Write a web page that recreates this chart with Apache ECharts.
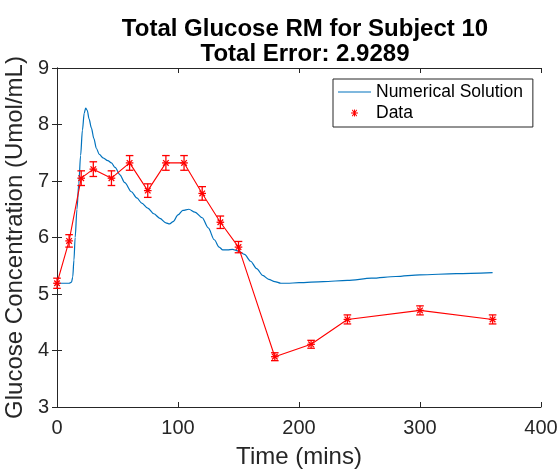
<!DOCTYPE html>
<html>
<head>
<meta charset="utf-8">
<script src="https://cdn.jsdelivr.net/npm/echarts@6/dist/echarts.min.js"></script>
<style>
  html, body { margin: 0; padding: 0; background: #fff; }
  #chart { width: 560px; height: 471px; }
</style>
</head>
<body>
<div id="chart"></div>
<script>
// Measured glucose samples (minutes, Umol/mL) with their error half-widths
const sampleTimes = [0, 10, 20, 30, 45, 60, 75, 90, 105, 120, 135, 150, 180, 210, 240, 300, 360];
const sampleValues = [5.19, 5.94, 7.05, 7.21, 7.05, 7.32, 6.83, 7.32, 7.32, 6.78, 6.27, 5.83, 3.89, 4.11, 4.55, 4.71, 4.55];
const sampleErrors = [0.09, 0.11, 0.13, 0.13, 0.13, 0.13, 0.12, 0.13, 0.13, 0.12, 0.11, 0.10, 0.07, 0.07, 0.08, 0.08, 0.08];

// Model output (numerical solution) sampled along time
const modelTimes = [0, 5, 10, 12, 13, 14, 15, 16.5, 18, 19.5, 21, 22.5, 23.7, 25, 26.5, 28.4, 30.5, 32.5, 35, 38, 42, 45, 48, 52, 56, 61.5, 66, 70, 75, 80, 85, 90, 93, 96, 100, 104, 109, 114, 120, 125, 130, 134, 137, 141, 145, 150, 155, 160, 165, 170, 175, 180, 185, 190, 200, 220, 240, 260, 280, 300, 330, 360];
const modelValues = [5.19, 5.19, 5.19, 5.21, 5.3, 5.6, 6.0, 6.5, 6.95, 7.45, 7.9, 8.2, 8.29, 8.25, 8.1, 7.94, 7.75, 7.58, 7.47, 7.41, 7.36, 7.32, 7.24, 7.11, 6.97, 6.81, 6.7, 6.61, 6.52, 6.42, 6.34, 6.26, 6.24, 6.28, 6.4, 6.48, 6.5, 6.45, 6.35, 6.17, 5.96, 5.83, 5.78, 5.78, 5.79, 5.76, 5.7, 5.58, 5.45, 5.33, 5.26, 5.22, 5.19, 5.19, 5.2, 5.22, 5.24, 5.28, 5.31, 5.34, 5.36, 5.38];

// Axis tick values
const xTicks = [0, 100, 200, 300, 400];
const yTicks = [3, 4, 5, 6, 7, 8, 9];

const BLUE = '#0072BD';
const RED = '#FF0000';
const AXIS = '#262626';
const FONT = '"Liberation Sans", Arial, Helvetica, sans-serif';

const modelData = modelTimes.map((t, i) => [t, modelValues[i]]);
const sampleData = sampleTimes.map((t, i) => [t, sampleValues[i]]);
const errorData = sampleTimes.map((t, i) => [t, sampleValues[i], sampleErrors[i]]);

// legend icons: bounds padded with zero-area segments so the glyph keeps its size
const lineIcon = 'path://M0 0L0 0ZM33 14L33 14ZM0 6.4H33V7.6H0Z';
const starIcon = 'path://M0 0L0 0ZM33 14L33 14Z' +
  'M13 6.5H20V7.5H13Z' +
  'M16 3.5H17V10.5H16Z' +
  'M13.9 4.2L14.6 3.5L19.1 9.8L18.4 10.5Z' +
  'M18.4 3.5L19.1 4.2L14.6 10.5L13.9 9.8Z';

function renderErrorBar(params, api) {
  const x = api.value(0), y = api.value(1), e = api.value(2);
  const top = api.coord([x, y + e]);
  const bot = api.coord([x, y - e]);
  const c = api.coord([x, y]);
  const cap = 3.8, r = 3.8, d = 2.8;
  const style = { stroke: RED, lineWidth: 1.3, fill: null };
  const seg = (x1, y1, x2, y2) => ({ type: 'line', shape: { x1, y1, x2, y2 }, style });
  return {
    type: 'group',
    children: [
      seg(top[0], top[1], bot[0], bot[1]),
      seg(top[0] - cap, top[1], top[0] + cap, top[1]),
      seg(bot[0] - cap, bot[1], bot[0] + cap, bot[1]),
      seg(c[0] - r, c[1], c[0] + r, c[1]),
      seg(c[0] - d, c[1] - d, c[0] + d, c[1] + d),
      seg(c[0] - d, c[1] + d, c[0] + d, c[1] - d)
    ]
  };
}

const chart = echarts.init(document.getElementById('chart'), null, { renderer: 'canvas' });

const tickLabelStyle = { color: AXIS, fontSize: 20, fontFamily: FONT };

chart.setOption({
  animation: false,
  backgroundColor: '#fff',
  title: {
    text: 'Total Glucose RM for Subject 10\nTotal Error: 2.9289',
    left: 300,
    top: 12,
    textAlign: 'center',
    textStyle: { fontFamily: FONT, fontSize: 24, fontWeight: 'bold', color: '#000', lineHeight: 25 }
  },
  grid: { left: 57, right: 19, top: 68, bottom: 64, show: false, containLabel: false, outerBoundsMode: 'none' },
  legend: {
    orient: 'vertical',
    left: 333,
    top: 79,
    padding: [4, 10, 5, 5],
    itemGap: 3,
    itemWidth: 33,
    itemHeight: 14,
    backgroundColor: '#fff',
    borderColor: AXIS,
    borderWidth: 1,
    borderRadius: 0,
    textStyle: { fontFamily: FONT, fontSize: 17.5, color: '#000' },
    data: [
      { name: 'Numerical Solution', icon: lineIcon },
      { name: 'Data', icon: starIcon }
    ],
    selectedMode: false
  },
  xAxis: [
    {
      type: 'value', position: 'bottom', min: 0, max: 400, interval: 100,
      name: 'Time (mins)', nameLocation: 'middle', nameGap: 38,
      nameTextStyle: { fontFamily: FONT, fontSize: 24, color: AXIS },
      axisLine: { show: true, lineStyle: { color: AXIS, width: 1 } },
      axisTick: { show: true, inside: true, length: 5, lineStyle: { color: AXIS } },
      axisLabel: Object.assign({ margin: 11, formatter: v => xTicks.includes(v) ? String(v) : '' }, tickLabelStyle),
      splitLine: { show: false }
    },
    {
      type: 'value', position: 'top', min: 0, max: 400, interval: 100,
      axisLine: { show: true, lineStyle: { color: AXIS, width: 1 } },
      axisTick: { show: true, inside: true, length: 5, lineStyle: { color: AXIS } },
      axisLabel: { show: false },
      splitLine: { show: false }
    }
  ],
  yAxis: [
    {
      type: 'value', position: 'left', min: 3, max: 9, interval: 1,
      name: 'Glucose Concentration (Umol/mL)', nameLocation: 'middle', nameGap: 20,
      nameTextStyle: { fontFamily: FONT, fontSize: 24, color: AXIS },
      axisLine: { show: true, lineStyle: { color: AXIS, width: 1 } },
      axisTick: { show: true, inside: true, length: 5, lineStyle: { color: AXIS } },
      axisLabel: Object.assign({ margin: 8, formatter: v => yTicks.includes(v) ? String(v) : '' }, tickLabelStyle),
      splitLine: { show: false }
    },
    {
      type: 'value', position: 'right', min: 3, max: 9, interval: 1,
      axisLine: { show: true, lineStyle: { color: AXIS, width: 1 } },
      axisTick: { show: true, inside: true, length: 5, lineStyle: { color: AXIS } },
      axisLabel: { show: false },
      splitLine: { show: false }
    }
  ],
  series: [
    {
      name: 'Numerical Solution',
      type: 'line',
      xAxisIndex: 0, yAxisIndex: 0,
      data: modelData,
      smooth: 0.3,
      smoothMonotone: 'x',
      symbol: 'none',
      lineStyle: { color: BLUE, width: 1.2 },
      itemStyle: { color: BLUE },
      z: 2
    },
    {
      name: 'Data line',
      type: 'line',
      xAxisIndex: 0, yAxisIndex: 0,
      data: sampleData,
      symbol: 'none',
      lineStyle: { color: RED, width: 1.1 },
      itemStyle: { color: RED },
      z: 3
    },
    {
      name: 'Data',
      type: 'custom',
      xAxisIndex: 0, yAxisIndex: 0,
      data: errorData,
      encode: { x: 0, y: 1 },
      renderItem: renderErrorBar,
      itemStyle: { color: RED },
      z: 4
    }
  ]
});
</script>
</body>
</html>
